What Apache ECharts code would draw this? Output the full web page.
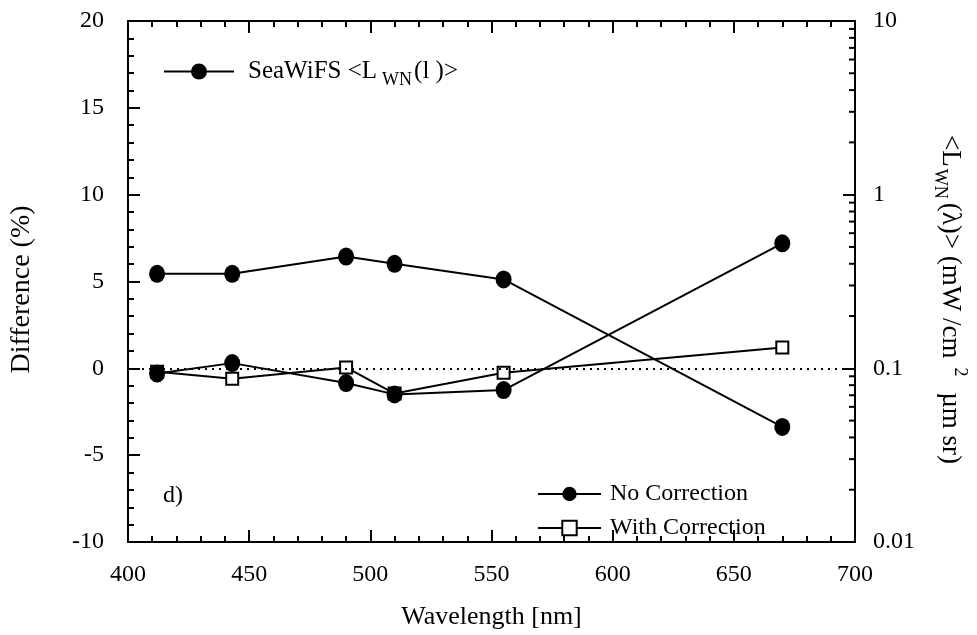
<!DOCTYPE html>
<html>
<head>
<meta charset="utf-8">
<script src="https://cdn.jsdelivr.net/npm/echarts@6/dist/echarts.min.js"></script>
<style>
  html, body { margin: 0; padding: 0; background: #fff; }
  #chart { width: 977px; height: 635px; }
</style>
</head>
<body>
<div id="chart"></div>
<script>
// SeaWiFS band centres (nm)
var wavelengths = [412, 443, 490, 510, 555, 670];
// differences (%)
var noCorrection = [-0.3, 0.3, -0.85, -1.5, -1.25, 7.2];
var withCorrection = [-0.2, -0.6, 0.05, -1.45, -0.25, 1.2];
// mean normalized water-leaving radiance, right (log) axis
var seawifsLwn = [0.35, 0.35, 0.44, 0.40, 0.325, 0.046];
// minor ticks of the log axis (2..9 in each decade)
var logMinorTicks = [0.02, 0.03, 0.04, 0.05, 0.06, 0.07, 0.08, 0.09,
  0.2, 0.3, 0.4, 0.5, 0.6, 0.7, 0.8, 0.9,
  2, 3, 4, 5, 6, 7, 8, 9];

var FONT = '"Liberation Serif", "Times New Roman", serif';

function pairs(xs, ys) {
  return xs.map(function (x, i) { return [x, ys[i]]; });
}

var tickStyle = { show: true, inside: true, length: 12, lineStyle: { color: '#000', width: 2 } };
var minorStyle = { show: true, splitNumber: 5, length: 6, lineStyle: { color: '#000', width: 2 } };
var lineAxis = { show: true, onZero: false, lineStyle: { color: '#000', width: 2 } };
var labelStyle = { color: '#000', fontFamily: FONT, fontSize: 24 };

var chart = echarts.init(document.getElementById('chart'));

chart.setOption({
  animation: false,
  backgroundColor: '#fff',
  textStyle: { fontFamily: FONT, color: '#000' },
  grid: { left: 127, right: 121, top: 21, bottom: 92, containLabel: false },
  xAxis: [{
    type: 'value', position: 'bottom', min: 400, max: 700, interval: 50,
    axisLine: lineAxis, axisTick: tickStyle, minorTick: minorStyle,
    splitLine: { show: false },
    axisLabel: Object.assign({ margin: 21 }, labelStyle),
    name: 'Wavelength [nm]', nameLocation: 'middle', nameGap: 62,
    nameTextStyle: { fontFamily: FONT, fontSize: 26, color: '#000' }
  }, {
    type: 'value', position: 'top', min: 400, max: 700, interval: 50,
    axisLine: lineAxis, axisTick: tickStyle, minorTick: minorStyle,
    splitLine: { show: false }, axisLabel: { show: false }
  }],
  yAxis: [{
    type: 'value', position: 'left', min: -10, max: 20, interval: 5,
    axisLine: lineAxis, axisTick: tickStyle, minorTick: minorStyle,
    splitLine: { show: false },
    axisLabel: Object.assign({ margin: 24 }, labelStyle),
    name: 'Difference (%)', nameLocation: 'middle', nameGap: 92,
    nameTextStyle: { fontFamily: FONT, fontSize: 28, color: '#000', padding: [0, 16, 0, 0] }
  }, {
    type: 'log', position: 'right', min: 0.01, max: 10, logBase: 10,
    axisLine: lineAxis, axisTick: tickStyle,
    minorTick: { show: false },
    splitLine: { show: false },
    axisLabel: Object.assign({ margin: 18 }, labelStyle),
    name: '<L{sub|WN}{n|(λ)> (mW /cm}{sup|2}{n| µm sr)}',
    nameLocation: 'middle', nameGap: 76, nameRotate: -90,
    nameTextStyle: {
      fontFamily: FONT, fontSize: 27, color: '#000', lineHeight: 38,
      padding: [0, 0, 0, 36],
      rich: {
        n: { fontFamily: FONT, fontSize: 27, lineHeight: 38 },
        sub: { fontFamily: FONT, fontSize: 18, lineHeight: 18, verticalAlign: 'bottom', padding: [0, 4, 0, 2] },
        sup: { fontFamily: FONT, fontSize: 18, lineHeight: 18, verticalAlign: 'top', padding: [0, 9, 0, 9] }
      }
    }
  }],
  legend: [{
    data: ['SeaWiFS'], left: 163, top: 59, itemWidth: 70, itemHeight: 20,
    formatter: function () { return '{a|SeaWiFS <L}{sub|WN}{n|(l )>}'; },
    textStyle: {
      fontFamily: FONT, fontSize: 25, color: '#000',
      rich: {
        a: { fontFamily: FONT, fontSize: 25, lineHeight: 36, padding: [0, 0, 0, 9] },
        n: { fontFamily: FONT, fontSize: 25, lineHeight: 36 },
        sub: { fontFamily: FONT, fontSize: 18, lineHeight: 18, verticalAlign: 'bottom', padding: [0, 2, 0, 5] }
      }
    },
    padding: 0
  }, {
    data: ['No Correction', 'With Correction'], orient: 'vertical',
    left: 537, top: 482, itemWidth: 63, itemHeight: 18, itemGap: 10,
    textStyle: { fontFamily: FONT, fontSize: 24, color: '#000', padding: [0, 0, 0, 4] },
    padding: 0
  }],
  graphic: [{
    type: 'text', left: 163, top: 484,
    style: { text: 'd)', font: '24px ' + FONT, fill: '#000' }
  }],
  series: [{
    name: 'With Correction', type: 'line', xAxisIndex: 0, yAxisIndex: 0,
    data: pairs(wavelengths, withCorrection),
    symbol: 'rect', symbolSize: 12,
    lineStyle: { color: '#000', width: 2 },
    itemStyle: { color: '#fff', borderColor: '#000', borderWidth: 2 },
    markLine: {
      silent: true, symbol: 'none', label: { show: false },
      lineStyle: { color: '#000', width: 2, type: [2, 5] },
      data: [{ yAxis: 0 }]
    }
  }, {
    name: 'No Correction', type: 'line', xAxisIndex: 0, yAxisIndex: 0,
    data: pairs(wavelengths, noCorrection),
    symbol: 'circle', symbolSize: [16, 18],
    lineStyle: { color: '#000', width: 2 },
    itemStyle: { color: '#000' }
  }, {
    name: 'SeaWiFS', type: 'line', xAxisIndex: 0, yAxisIndex: 1,
    data: pairs(wavelengths, seawifsLwn),
    symbol: 'circle', symbolSize: [16, 18],
    lineStyle: { color: '#000', width: 2 },
    itemStyle: { color: '#000' }
  }, {
    type: 'custom', xAxisIndex: 0, yAxisIndex: 1, silent: true,
    data: logMinorTicks.map(function (v) { return [700, v]; }),
    renderItem: function (params, api) {
      var p = api.coord([api.value(0), api.value(1)]);
      return {
        type: 'line',
        shape: { x1: p[0] - 6, y1: p[1], x2: p[0], y2: p[1] },
        style: { stroke: '#000', lineWidth: 2 }
      };
    }
  }]
});
</script>
</body>
</html>
